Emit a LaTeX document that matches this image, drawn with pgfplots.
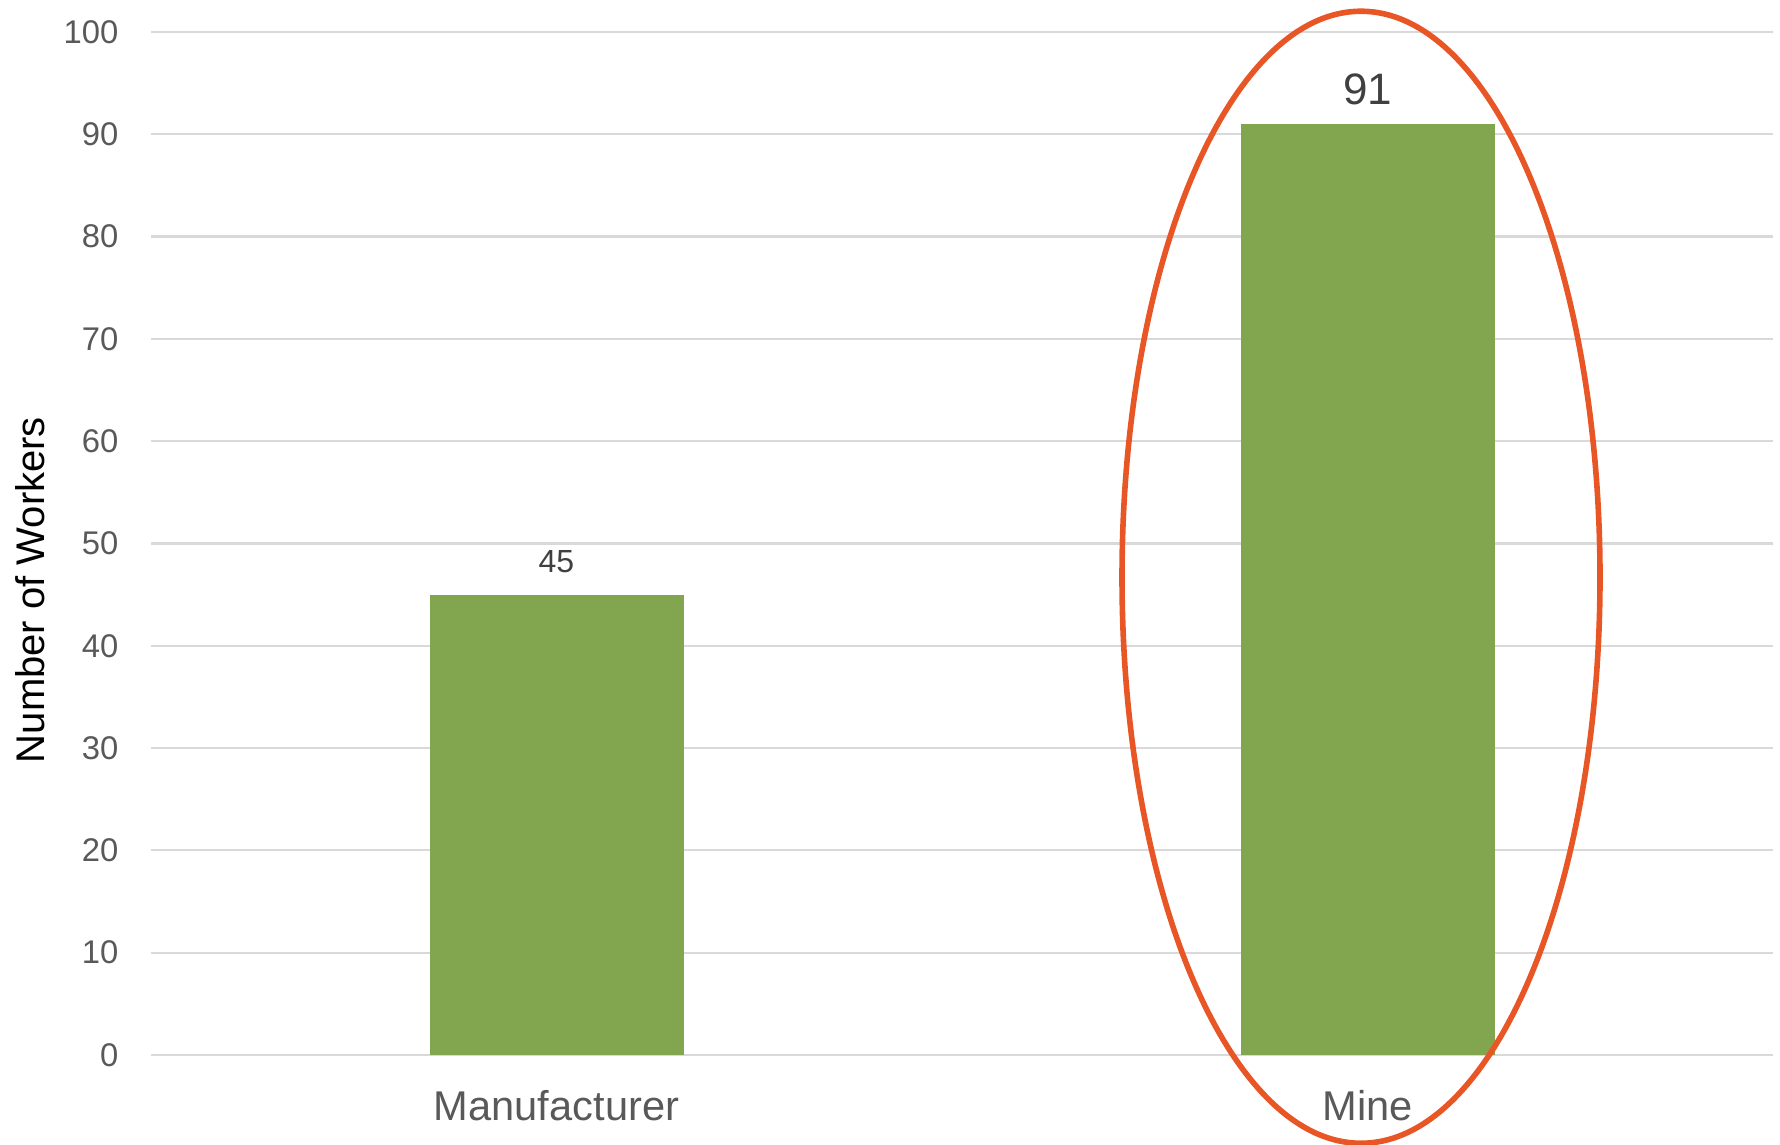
\documentclass[border=0pt]{standalone}
\usepackage{fontspec}
\setmainfont{Liberation Sans}
\usepackage{pgfplots}
\pgfplotsset{compat=1.18}

\definecolor{barGreen}{RGB}{130,165,80}
\definecolor{gridGray}{RGB}{217,217,217}
\definecolor{tickGray}{RGB}{89,89,89}
\definecolor{labelDark}{RGB}{64,64,64}
\definecolor{ringRed}{RGB}{232,86,38}

\begin{document}
\begin{tikzpicture}
  \path[use as bounding box] (0,0) rectangle (445pt,286.25pt);
  \begin{axis}[
    at={(37.75pt,22.5pt)}, anchor=south west,
    scale only axis,
    width=405.5pt, height=255.75pt,
    ybar, bar width=63.5pt,
    xmin=-0.5, xmax=1.5,
    ymin=0, ymax=100,
    xtick={0,1}, xticklabels={Manufacturer, Mine},
    ytick={0,10,...,100},
    major tick length=0pt,
    axis line style={draw=none},
    ymajorgrids,
    grid style={gridGray, line width=0.55pt},
    /pgf/number format/assume math mode=true,
    yticklabel style={font=\fontsize{8.2}{9.8}\selectfont, text=tickGray, xshift=-4.6pt},
    xticklabel style={font=\fontsize{10.4}{12.5}\selectfont, text=tickGray, yshift=-5.4pt},
    ylabel={Number of Workers},
    ylabel style={font=\fontsize{10}{12}\selectfont, text=black,
      at={(rel axis cs:0,0.4545)}, anchor=center, yshift=30.25pt},
    clip=false,
  ]
    % Manufacturer
    \addplot[fill=barGreen, draw=none, bar shift=0pt,
      nodes near coords,
      every node near coord/.append style={font=\fontsize{8}{9.6}\selectfont, text=labelDark, yshift=1.8pt}]
      coordinates {(0,45)};
    % Mine (highlighted)
    \addplot[fill=barGreen, draw=none, bar shift=0pt,
      nodes near coords,
      every node near coord/.append style={font=\fontsize{11}{13}\selectfont, text=labelDark, yshift=1.3pt}]
      coordinates {(1,91)};
    \draw[ringRed, line width=1.4pt] (axis cs:0.992,46.7) ellipse [x radius=59.75pt, y radius=141.5pt];
  \end{axis}
\end{tikzpicture}
\end{document}
